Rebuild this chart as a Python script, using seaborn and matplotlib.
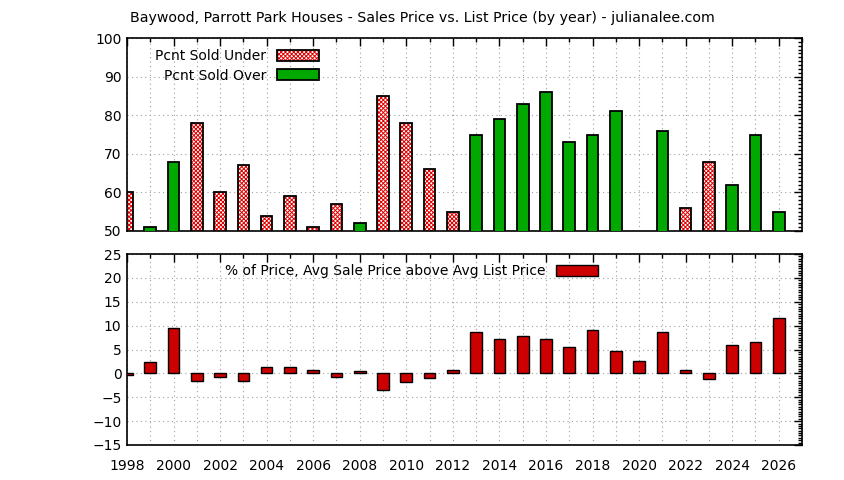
import numpy as np
import pandas as pd
import matplotlib
matplotlib.use('Agg')
import matplotlib.pyplot as plt
import seaborn as sns
from matplotlib.patches import Patch
from matplotlib.ticker import MultipleLocator

years = list(range(1998, 2027))
# percent of sales under / over list (one of them per year, NaN otherwise)
pct_under = [60, np.nan, np.nan, 78, 60, 67, 54, 59, 51, 57, np.nan, 85, 78, 66, 55,
             np.nan, np.nan, np.nan, np.nan, np.nan, np.nan, np.nan, np.nan, np.nan,
             56, 68, np.nan, np.nan, np.nan]
pct_over = [np.nan, 51, 68, np.nan, np.nan, np.nan, np.nan, np.nan, np.nan, np.nan, 52,
            np.nan, np.nan, np.nan, np.nan, 75, 79, 83, 86, 73, 75, 81, np.nan, 76,
            np.nan, np.nan, 62, 75, 55]
pct_price = [-0.3, 2.3, 9.4, -1.5, -0.7, -1.7, 1.3, 1.3, 0.8, -0.7, 0.6, -3.4, -1.9, -0.9,
             0.8, 8.6, 7.3, 7.9, 7.3, 5.6, 9.0, 4.6, 2.5, 8.6, 0.8, -1.1, 5.9, 6.5, 11.7]

df = pd.DataFrame({'year': years, 'under': pct_under, 'over': pct_over, 'price': pct_price})

sns.set_style('white')
plt.rcParams['font.family'] = ['DejaVu Sans']
plt.rcParams['hatch.linewidth'] = 0.7
plt.rcParams['text.color'] = 'black'
plt.rcParams['xtick.color'] = 'black'
plt.rcParams['ytick.color'] = 'black'
plt.rcParams['xtick.labelcolor'] = 'black'
plt.rcParams['ytick.labelcolor'] = 'black'

fig = plt.figure(figsize=(8.44, 4.8), dpi=100)
W, H = 844, 480
ax1 = fig.add_axes([127 / W, 1 - 231 / H, 675 / W, 193 / H])
ax2 = fig.add_axes([127 / W, 1 - 445 / H, 675 / W, 191 / H])

green = '#00a800'
red = '#cc0000'
bw = 0.5
hatch = 'xxxxxxxx'

du = df.dropna(subset=['under'])
do = df.dropna(subset=['over'])

# hatched "under" bars: red pattern first, black outline on top
sns.barplot(data=du, x='year', y='under', native_scale=True, width=bw, ax=ax1,
            color='white', edgecolor='#e00000', hatch=hatch, linewidth=0, errorbar=None,
            saturation=1, zorder=2)
sns.barplot(data=du, x='year', y='under', native_scale=True, width=bw, ax=ax1,
            fill=False, edgecolor='black', linewidth=1.3, errorbar=None, zorder=3)
sns.barplot(data=do, x='year', y='over', native_scale=True, width=bw, ax=ax1,
            color=green, edgecolor='black', linewidth=1.3, errorbar=None,
            saturation=1, zorder=3)

sns.barplot(data=df, x='year', y='price', native_scale=True, width=bw, ax=ax2,
            color=red, edgecolor='black', linewidth=1.0, errorbar=None,
            saturation=1, zorder=3)

for ax in (ax1, ax2):
    ax.set_xlim(1998, 2027)
    ax.xaxis.set_major_locator(MultipleLocator(2))
    ax.xaxis.set_minor_locator(MultipleLocator(1))
    ax.set_xlabel('')
    ax.set_ylabel('')
    ax.grid(True, which='both', axis='x', color='#a0a0a0', linestyle=(0, (1, 3)), linewidth=0.8, zorder=0)
    ax.grid(True, which='major', axis='y', color='#a0a0a0', linestyle=(0, (1, 3)), linewidth=0.8, zorder=0)
    ax.set_axisbelow(True)
    ax.tick_params(which='both', direction='in', top=True, right=True, labelsize=10,
                   color='black', pad=4)
    ax.tick_params(which='major', length=6, width=1)
    ax.tick_params(which='minor', length=3, width=1)
    for s in ax.spines.values():
        s.set_color('black')
        s.set_linewidth(1.2)
        s.set_visible(True)

ax1.set_ylim(50, 100)
ax1.yaxis.set_major_locator(MultipleLocator(10))
ax1.yaxis.set_minor_locator(MultipleLocator(1))
ax1.set_xticks(range(1998, 2027, 2))
ax1.set_xticklabels([])

ax2.set_ylim(-15, 25)
ax2.yaxis.set_major_locator(MultipleLocator(5))
ax2.yaxis.set_minor_locator(MultipleLocator(0.5))
ax2.set_xticks(range(1998, 2027, 2))
ax2.set_xticklabels([str(y) for y in range(1998, 2027, 2)])
ax2.tick_params(axis='x', pad=10)

h_under = Patch(facecolor='white', edgecolor='#e00000', hatch=hatch, linewidth=0)
h_under_o = Patch(facecolor='none', edgecolor='black', linewidth=1.3)
h_over = Patch(facecolor=green, edgecolor='black', linewidth=1.3)
ax1.legend([(h_under, h_under_o), h_over], ['Pcnt Sold Under', 'Pcnt Sold Over'],
           loc='upper right', bbox_to_anchor=(319 / W, 1 - 49 / H),
           bbox_transform=fig.transFigure, frameon=False, markerfirst=False,
           fontsize=10, handlelength=3.0, handleheight=0.85, handletextpad=0.8,
           labelspacing=0.4, borderpad=0, borderaxespad=0)

h_price = Patch(facecolor=red, edgecolor='black', linewidth=1.0)
ax2.legend([h_price], ['% of Price, Avg Sale Price above Avg List Price'],
           loc='upper right', bbox_to_anchor=(598 / W, 1 - 264 / H),
           bbox_transform=fig.transFigure, frameon=False, markerfirst=False,
           fontsize=10, handlelength=3.0, handleheight=0.85, handletextpad=0.8,
           borderpad=0, borderaxespad=0)

fig.text(0.5, 1 - 18 / H, 'Baywood, Parrott Park Houses - Sales Price vs. List Price (by year) - julianalee.com',
         ha='center', va='center', fontsize=10.2)

fig.savefig('out.png', dpi=100, facecolor='white')
